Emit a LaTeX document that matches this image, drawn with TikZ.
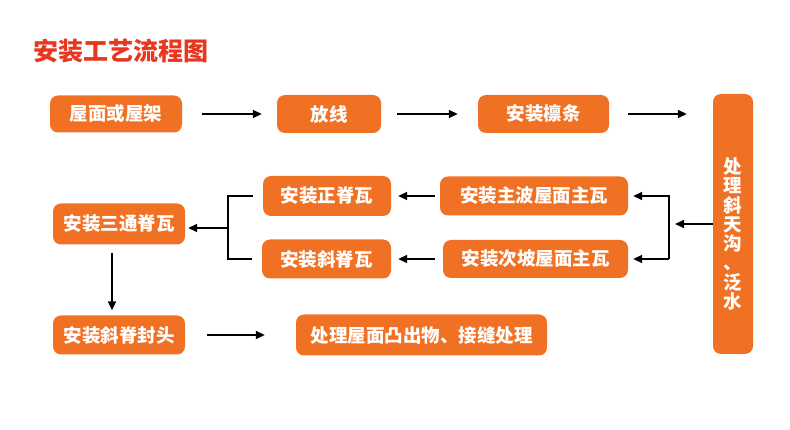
\documentclass[tikz,border=0pt]{standalone}
\usepackage{fontspec}
\newfontfamily\cjk{Noto Sans CJK SC}
\usetikzlibrary{arrows.meta}
\definecolor{boxorange}{HTML}{F07124}
\definecolor{titlered}{HTML}{E8361F}

\begin{document}
\begin{tikzpicture}[x=1pt, y=-1pt,
    box/.style={rectangle, rounded corners=8pt, fill=boxorange, text=white, inner sep=0pt,
      font=\cjk\bfseries\fontsize{18.5}{19}\selectfont},
    arr/.style={-{Triangle[length=9pt,width=8pt]}, line width=1.6pt},
    lnk/.style={line width=1.6pt}]
    \useasboundingbox (0,0) rectangle (790,430);
    \node[anchor=west, inner sep=0pt, text=titlered, font=\cjk\bfseries\fontsize{25}{25}\selectfont] (title) at (33,51) {安装工艺流程图};
    % first row
    \node[box, minimum width=132pt, minimum height=37pt] (wm) at (116,114) {屋面或屋架};
    \node[box, minimum width=104pt, minimum height=38pt] (fx) at (329,114) {放线};
    \node[box, minimum width=131pt, minimum height=38pt] (ln) at (543.5,114) {安装檩条};
    \node[box, minimum width=40pt, minimum height=260pt,
      label={[text=white, inner sep=0pt, align=center, yshift=-10pt,
        font=\cjk\bfseries\fontsize{18.5}{19.3}\selectfont]center:处\\理\\斜\\天\\沟\\、\\泛\\水}] (tg) at (733,224) {};
    % middle rows
    \node[box, minimum width=188pt, minimum height=39pt] (zb) at (534,196) {安装主波屋面主瓦};
    \node[box, minimum width=185pt, minimum height=38pt] (cp) at (535.5,259) {安装次坡屋面主瓦};
    \node[box, minimum width=128pt, minimum height=40pt] (zj) at (327,196) {安装正脊瓦};
    \node[box, minimum width=129pt, minimum height=39pt] (xj) at (326.5,259) {安装斜脊瓦};
    \node[box, minimum width=132pt, minimum height=41pt] (st) at (119,224) {安装三通脊瓦};
    % last row
    \node[box, minimum width=132pt, minimum height=39pt] (ft) at (119,335) {安装斜脊封头};
    \node[box, minimum width=251pt, minimum height=41pt] (tc) at (421.5,335) {处理屋面凸出物、接缝处理};
    \coordinate (kR) at (669,224);
    \coordinate (kL) at (228,228);

    \draw[arr, shorten <=20pt, shorten >=15pt] (wm) -- (fx);
    \draw[arr, shorten <=16pt, shorten >=20pt] (fx) -- (ln);
    \draw[arr, shorten <=19pt, shorten >=26pt] (ln) -- (tg.west |- ln);
    \draw[arr, shorten >=6pt] (tg.west |- kR) -- (kR);
    \draw[arr, shorten >=5pt] (kR |- cp) -- (kR |- zb) -- (zb);
    \draw[arr, shorten >=5pt] (kR |- cp) -- (cp);
    \draw[arr, shorten <=5pt, shorten >=7pt] (zb) -- (zj);
    \draw[arr, shorten <=8pt, shorten >=7pt] (cp) -- (xj);
    \draw[lnk] ([xshift=-10pt]zj.west) -- (kL |- zj) -- (kL |- xj) -- ([xshift=-10pt]xj.west);
    \draw[arr, shorten >=3pt] (kL) -- (kL -| st.east);
    \draw[arr, shorten <=8pt, shorten >=5pt] ([xshift=-7pt]st.south) -- ([xshift=-7pt]ft.north);
    \draw[arr, shorten <=22pt, shorten >=31pt] (ft) -- (tc);
\end{tikzpicture}
\end{document}
